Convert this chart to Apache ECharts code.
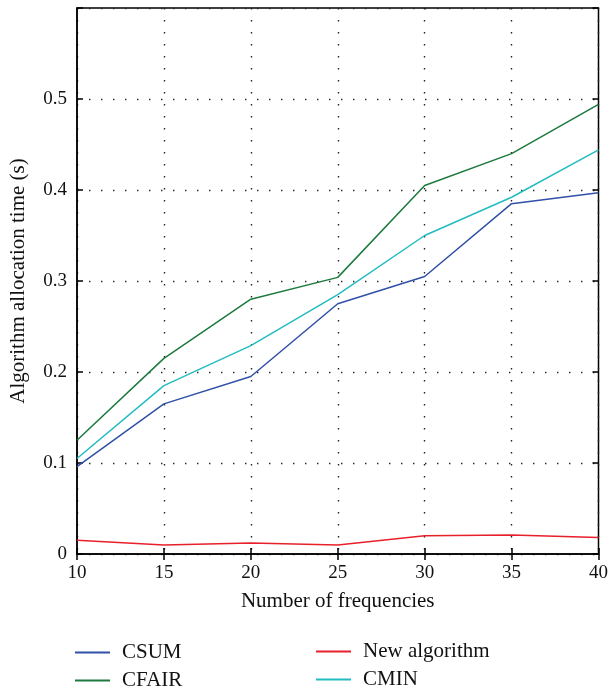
<!DOCTYPE html>
<html><head><meta charset="utf-8">
<script src="https://cdn.jsdelivr.net/npm/echarts@6/dist/echarts.min.js"></script>
<style>html,body{margin:0;padding:0;background:#fff}#c{width:611px;height:690px}</style>
</head><body><div id="c"></div>
<script>
const categories = [10, 15, 20, 25, 30, 35, 40];
const csum = [0.096, 0.165, 0.195, 0.275, 0.305, 0.385, 0.397];
const cfair = [0.125, 0.215, 0.280, 0.304, 0.405, 0.440, 0.494];
const cmin = [0.105, 0.185, 0.229, 0.285, 0.350, 0.392, 0.444];
const newAlg = [0.015, 0.010, 0.012, 0.010, 0.020, 0.021, 0.018];
const yTicks = [0, 0.1, 0.2, 0.3, 0.4, 0.5, 0.6];

const FONT = 'Liberation Serif';
const colors = {CSUM:'#3150a8', CFAIR:'#1d7a3e', 'New algorithm':'#e8202a', CMIN:'#22bcc2'};
function pairs(arr){ return categories.map((c,i)=>[c, arr[i]]); }
const chart = echarts.init(document.getElementById('c'));
const dotted = {show:true, lineStyle:{color:'#222', width:1.4, type:[1.4,10.6]}};
const legendText = {fontFamily:FONT, fontSize:21, color:'#111', padding:[0,0,0,7]};
chart.setOption({
  animation:false,
  textStyle:{fontFamily:FONT},
  grid:{left:74.5, right:9, top:8, bottom:136, show:true, borderColor:'#000', borderWidth:1.5, backgroundColor:'transparent'},
  legend:[
    {orient:'vertical', left:75, top:642, height:60, padding:0, itemWidth:35, itemHeight:2, itemGap:7, icon:'rect',
     textStyle:legendText, data:['CSUM','CFAIR']},
    {orient:'vertical', left:316, top:641, height:60, padding:0, itemWidth:35, itemHeight:2, itemGap:7, icon:'rect',
     textStyle:legendText, data:['New algorithm','CMIN']}
  ],
  xAxis:[{
    type:'value', min:10, max:40, interval:5, position:'bottom',
    name:'Number of frequencies', nameLocation:'middle', nameGap:37,
    nameTextStyle:{fontFamily:FONT, fontSize:21, color:'#111'},
    axisLine:{show:true, lineStyle:{color:'#000', width:1.5}},
    axisTick:{show:true, inside:true, length:6, lineStyle:{color:'#000', width:1.5}},
    axisLabel:{fontFamily:FONT, fontSize:19, color:'#111', margin:10},
    splitLine:dotted
  },{
    type:'value', min:10, max:40, interval:5, position:'top',
    axisLine:{show:false}, axisTick:{show:true, inside:true, length:6, lineStyle:{color:'#000', width:1.5}},
    axisLabel:{show:false}, splitLine:{show:false}
  }],
  yAxis:[{
    type:'value', min:0, max:0.6, interval:0.1, position:'left',
    name:'Algorithm allocation time (s)', nameLocation:'middle', nameGap:48,
    nameTextStyle:{fontFamily:FONT, fontSize:21, color:'#111'},
    axisLine:{show:true, lineStyle:{color:'#000', width:1.5}},
    axisTick:{show:true, inside:true, length:6, lineStyle:{color:'#000', width:1.5}},
    axisLabel:{fontFamily:FONT, fontSize:19, color:'#111', margin:10,
      formatter:v=>{ const t=yTicks.find(x=>Math.abs(x-v)<1e-9); if(t===0) return '0'; if(t===0.6) return ''; return String(+v.toFixed(1)); }},
    splitLine:dotted
  },{
    type:'value', min:0, max:0.6, interval:0.1, position:'right',
    axisLine:{show:false}, axisTick:{show:true, inside:true, length:6, lineStyle:{color:'#000', width:1.5}},
    axisLabel:{show:false}, splitLine:{show:false}
  }],
  series:[
    {name:'CSUM', type:'line', data:pairs(csum), showSymbol:false, lineStyle:{width:1.5, color:colors.CSUM}, itemStyle:{color:colors.CSUM}},
    {name:'CFAIR', type:'line', data:pairs(cfair), showSymbol:false, lineStyle:{width:1.5, color:colors.CFAIR}, itemStyle:{color:colors.CFAIR}},
    {name:'New algorithm', type:'line', data:pairs(newAlg), showSymbol:false, lineStyle:{width:1.5, color:colors['New algorithm']}, itemStyle:{color:colors['New algorithm']}},
    {name:'CMIN', type:'line', data:pairs(cmin), showSymbol:false, lineStyle:{width:1.5, color:colors.CMIN}, itemStyle:{color:colors.CMIN}}
  ]
});
</script></body></html>
